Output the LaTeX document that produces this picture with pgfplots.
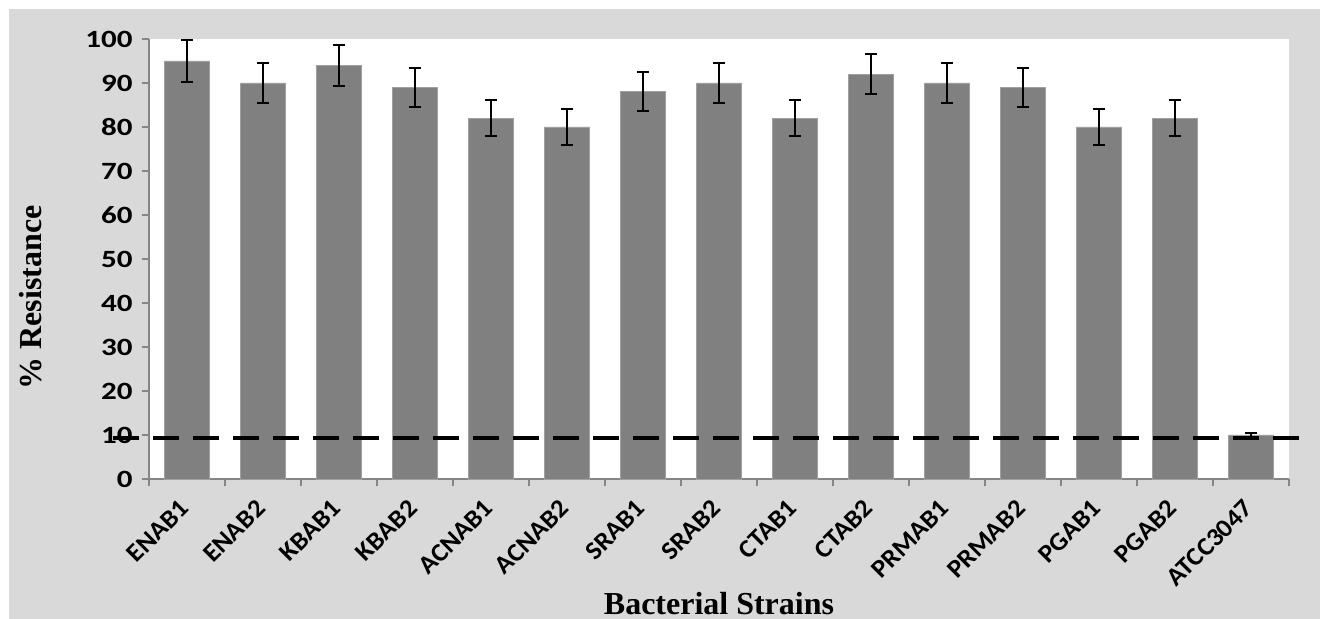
\documentclass[border=0pt]{standalone}
\usepackage{pgfplots}
\pgfplotsset{compat=1.18}
\usepackage{pgfplotstable}
\usepackage{fontspec}
\setmainfont{Liberation Serif}
\newfontfamily\calfont[FakeStretch=1.05]{Carlito}
\newfontfamily\calwide[FakeStretch=1.25]{Carlito}
\definecolor{bgg}{HTML}{D9D9D9}
\definecolor{barg}{HTML}{808080}
\definecolor{barb}{HTML}{A0A0A0}
\definecolor{axg}{HTML}{868686}
\pgfplotstableread{
x y e
0 95 4.75
1 90 4.5
2 94 4.7
3 89 4.45
4 82 4.1
5 80 4.0
6 88 4.4
7 90 4.5
8 82 4.1
9 92 4.6
10 90 4.5
11 89 4.45
12 80 4.0
13 82 4.1
14 10 0.5
}\datatable
\begin{document}
\begin{tikzpicture}
\fill[bgg] (-70pt,-70pt) rectangle (585.5pt,235pt);
\begin{axis}[at={(0,0)}, anchor=south west, scale only axis,
  width=570pt, height=220pt,
  xmin=-0.5, xmax=14.5, ymin=0, ymax=100,
  ytick={0,10,...,100},
  axis x line*=bottom, axis y line*=left,
  axis line style={axg, line width=1pt},
  axis background/.style={fill=white},
  tick align=outside, major tick length=3.5pt, minor tick length=3.5pt,
  tick style={axg, line width=1pt},
  xtick={0,...,14},
  xticklabels={ENAB1,ENAB2,KBAB1,KBAB2,ACNAB1,ACNAB2,SRAB1,SRAB2,CTAB1,CTAB2,PRMAB1,PRMAB2,PGAB1,PGAB2,ATCC3047},
  major x tick style={draw=none},
  minor xtick={-0.5,0.5,...,14.5},
  ticklabel style={text=black},
  /pgf/number format/assume math mode=true,
  xticklabel style={font=\calfont\bfseries\fontsize{12.8}{14}\selectfont,
    inner sep=0pt, xshift=-1pt, yshift=-9pt, rotate=45, anchor=east},
  yticklabel style={font=\calwide\bfseries\fontsize{12.4}{14}\selectfont,
    inner sep=0pt, xshift=-4.5pt},
  clip=false,
  xlabel={Bacterial Strains},
  ylabel={\% Resistance},
  label style={font=\bfseries\fontsize{16}{18}\selectfont},
  xlabel style={at={(axis description cs:0.5,0)}, anchor=base, yshift=-68pt},
  ylabel style={at={(axis description cs:-0.1035,0.4125)}, anchor=center},
]
\addplot[ybar, bar width=22.5pt, fill=barg, draw=barb, line width=0.4pt,
  error bars/.cd, y dir=both, y explicit,
  error bar style={black, line width=1pt},
  error mark options={rotate=90, black, line width=1pt, mark size=3pt}]
  table[x=x, y=y, y error=e]{\datatable};
\addplot[black, line width=2pt, dash pattern=on 13pt off 7pt, forget plot]
  coordinates {(-0.97,9.4) (14.7,9.4)};
\end{axis}
\pgfresetboundingbox
\path[use as bounding box] (-74.5pt,-70pt) rectangle (585.5pt,239.5pt);
\end{tikzpicture}
\end{document}
